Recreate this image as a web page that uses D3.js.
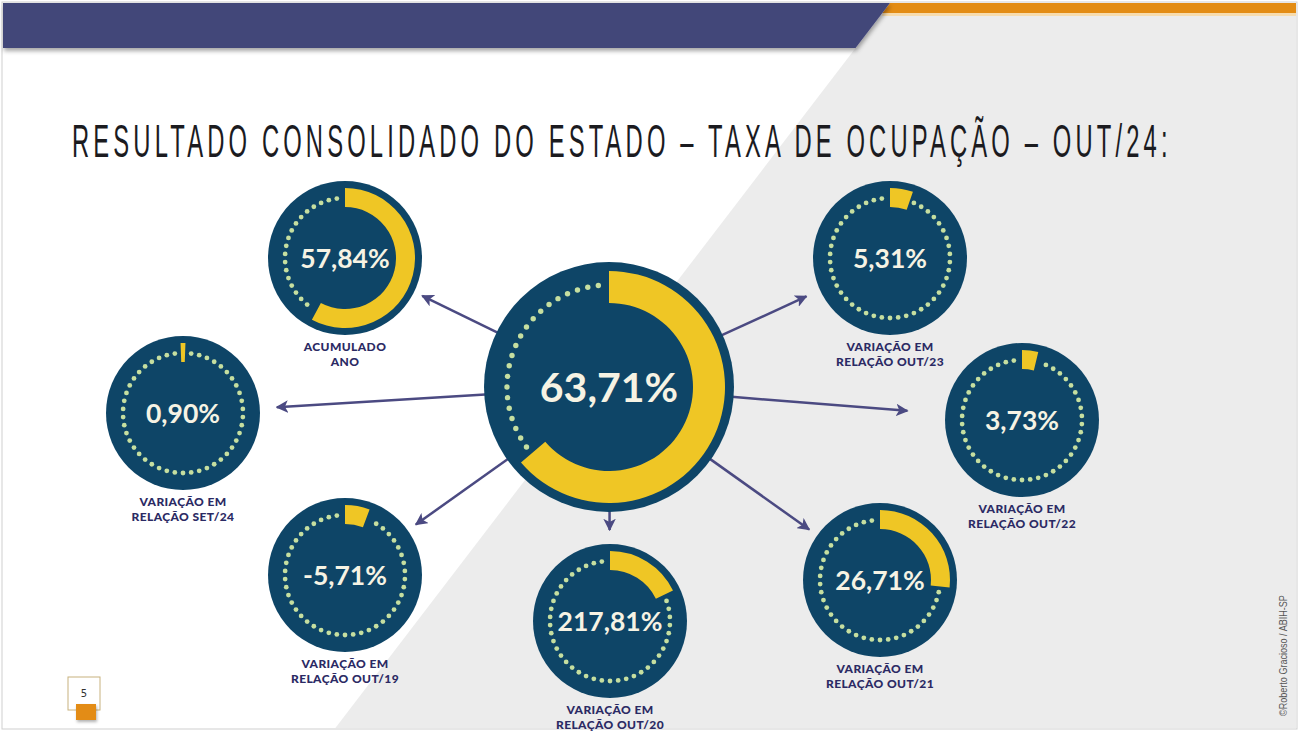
<!DOCTYPE html>
<html><head><meta charset="utf-8">
<script src="https://cdn.jsdelivr.net/npm/d3@7"></script>
<style>
html,body{margin:0;padding:0;background:#fff;}
svg{display:block;}
</style></head>
<body>
<svg id="c" width="1299" height="736"></svg>
<script>
// ---- data ----
const titleText = "RESULTADO CONSOLIDADO DO ESTADO – TAXA DE OCUPAÇÃO – OUT/24:";
const mainValue = 63.71;
const categories = [
  ["ACUMULADO", "ANO"],
  ["VARIAÇÃO EM", "RELAÇÃO SET/24"],
  ["VARIAÇÃO EM", "RELAÇÃO OUT/19"],
  ["VARIAÇÃO EM", "RELAÇÃO OUT/20"],
  ["VARIAÇÃO EM", "RELAÇÃO OUT/21"],
  ["VARIAÇÃO EM", "RELAÇÃO OUT/22"],
  ["VARIAÇÃO EM", "RELAÇÃO OUT/23"]
];
const values = [57.84, 0.90, -5.71, 217.81, 26.71, 3.73, 5.31];
const pageNumber = "5";
const creditText = "©Roberto Gracioso / ABIH-SP";

// ---- layout (positions only) ----
const center = {x: 609, y: 387, r: 125};
const nodes = [
  {x: 345, y: 258, gap: 9},
  {x: 183, y: 413, gap: 17},
  {x: 345, y: 575, gap: 10},
  {x: 610, y: 621, gap: 14},
  {x: 880, y: 580, gap: 10},
  {x: 1022, y: 420, gap: 38},
  {x: 890, y: 258, gap: 15}
];
const smallR = 77;

const NAVY = "#0e4567", YELLOW = "#efc625", DOT = "#c6dfa0", TXT = "#f6f3e4",
      LABEL = "#2b2a64", ARROW = "#4b4a82";

const loc = d3.formatLocale({decimal: ",", thousands: ".", grouping: [3], currency: ["R$", ""], minus: "-"});
const fmt = v => loc.format(".2f")(v) + "%";
const angle = d3.scaleLinear().domain([0, 100]).range([0, 2 * Math.PI]);

const svg = d3.select("#c");
const defs = svg.append("defs");
const sh = defs.append("filter").attr("id", "sh").attr("x", "-5%").attr("y", "-20%").attr("width", "110%").attr("height", "160%");
sh.append("feDropShadow").attr("dx", 1).attr("dy", 3).attr("stdDeviation", 2).attr("flood-color", "#000").attr("flood-opacity", 0.35);
const sh2 = defs.append("filter").attr("id", "sh2").attr("x", "-30%").attr("y", "-30%").attr("width", "160%").attr("height", "160%");
sh2.append("feDropShadow").attr("dx", 1).attr("dy", 2).attr("stdDeviation", 1.5).attr("flood-color", "#000").attr("flood-opacity", 0.3);
const mk = defs.append("marker").attr("id", "ah").attr("viewBox", "0 0 10 10").attr("refX", 9).attr("refY", 5)
  .attr("markerWidth", 5).attr("markerHeight", 5).attr("orient", "auto");
mk.append("path").attr("d", "M0,0 L10,5 L0,10 L2.5,5 Z").attr("fill", ARROW);

// ---- background ----
const slopeX = y => 890 - (y - 3) * 0.765;
svg.append("rect").attr("x", 2).attr("y", 2).attr("width", 1295).attr("height", 727).attr("fill", "#fff").attr("stroke", "#cfcfcf");
svg.append("path").attr("d", `M${slopeX(3)},3 L1296,3 L1296,728 L${slopeX(728)},728 Z`).attr("fill", "#ececec");
// orange bar
svg.append("path").attr("d", `M${slopeX(3)},3 L1296,3 L1296,13 L${slopeX(13)},13 Z`).attr("fill", "#e38c14");
svg.append("rect").attr("x", slopeX(13)).attr("y", 13).attr("width", 1296 - slopeX(13)).attr("height", 3).attr("fill", "#f7dcae");
// purple header
svg.append("path").attr("d", `M3,3 L${slopeX(3)},3 L${slopeX(48)},48 L3,48 Z`).attr("fill", "#434679").attr("filter", "url(#sh)");

// title (condensed look: wide tracking, horizontally compressed glyphs)
const title = svg.append("text").attr("x", 0).attr("y", 0).text(titleText)
  .attr("font-family", "'Liberation Sans','DejaVu Sans',sans-serif")
  .attr("font-size", 46).attr("letter-spacing", 8).attr("fill", "#1b1b1f");
const tw = title.node().getComputedTextLength();
title.attr("transform", `translate(72,157) scale(${1100 / tw},1)`);

// ---- arrows ----
nodes.forEach(n => {
  const dx = n.x - center.x, dy = n.y - center.y, d = Math.hypot(dx, dy);
  const ux = dx / d, uy = dy / d;
  const s = center.r - 5, e = d - smallR - n.gap;
  svg.append("line")
    .attr("x1", center.x + ux * s).attr("y1", center.y + uy * s)
    .attr("x2", center.x + ux * e).attr("y2", center.y + uy * e)
    .attr("stroke", ARROW).attr("stroke-width", 2.5).attr("marker-end", "url(#ah)");
});

// ---- gauge drawer ----
function gauge(g, cx, cy, R, v, ri, ro, dotR, nDots, fs, dotSize, minDeg) {
  const frac = Math.abs(v) % 100 || (Math.abs(v) >= 100 ? 100 : 0);
  let a1 = angle(frac);
  const minA = minDeg * Math.PI / 180;
  let a0 = 0;
  if (a1 < minA) { a0 = -minA / 2; a1 = minA / 2; }
  g.append("circle").attr("cx", cx).attr("cy", cy).attr("r", R).attr("fill", NAVY);
  const step = 2 * Math.PI / nDots;
  const dots = d3.range(nDots).map(i => i * step).filter(a => a > a1 + step * 0.4 && a < 2 * Math.PI + a0 - step * 0.2);
  g.selectAll(null).data(dots).join("circle")
    .attr("cx", a => cx + dotR * Math.sin(a)).attr("cy", a => cy - dotR * Math.cos(a))
    .attr("r", dotSize).attr("fill", DOT);
  g.append("path").attr("transform", `translate(${cx},${cy})`)
    .attr("d", d3.arc()({innerRadius: ri, outerRadius: ro, startAngle: a0, endAngle: a1}))
    .attr("fill", YELLOW);
  g.append("text").attr("x", cx).attr("y", cy).attr("dy", "0.36em").attr("text-anchor", "middle")
    .attr("font-family", "Lato, 'Open Sans', sans-serif").attr("font-weight", 700)
    .attr("font-size", fs).attr("fill", TXT).text(fmt(v));
}

gauge(svg.append("g"), center.x, center.y, center.r, mainValue, 84, 116, 102, 60, 41, 2.7, 2);

values.forEach((v, i) => {
  const n = nodes[i];
  const g = svg.append("g");
  gauge(g, n.x, n.y, smallR, v, 51, 70, 60, 46, 26.5, 2.4, 4);
  categories[i].forEach((line, k) => {
    g.append("text").attr("x", n.x).attr("y", n.y + smallR + 16 + k * 15).attr("text-anchor", "middle")
      .attr("font-family", "Lato, sans-serif").attr("font-weight", 900).attr("font-size", 12)
      .attr("letter-spacing", 0.4).attr("fill", LABEL).text(line);
  });
});

// ---- page number ----
svg.append("rect").attr("x", 68).attr("y", 677).attr("width", 32).attr("height", 33).attr("fill", "#fff").attr("stroke", "#c8b27e").attr("stroke-width", 1);
svg.append("text").attr("x", 84).attr("y", 697).attr("text-anchor", "middle").attr("font-family", "'DejaVu Sans', sans-serif").attr("font-size", 10).attr("fill", "#333").text(pageNumber);
svg.append("rect").attr("x", 76).attr("y", 704).attr("width", 20).attr("height", 16).attr("fill", "#e38c14").attr("filter", "url(#sh2)");

// ---- credit ----
const cr = svg.append("text").attr("x", 0).attr("y", 0)
  .attr("font-family", "'Liberation Sans',sans-serif").attr("font-size", 10.5)
  .attr("fill", "#555").text(creditText);
const cw = cr.node().getComputedTextLength();
cr.attr("transform", `translate(1287,716) rotate(-90) scale(${121 / cw},1)`);
</script>
</body></html>
